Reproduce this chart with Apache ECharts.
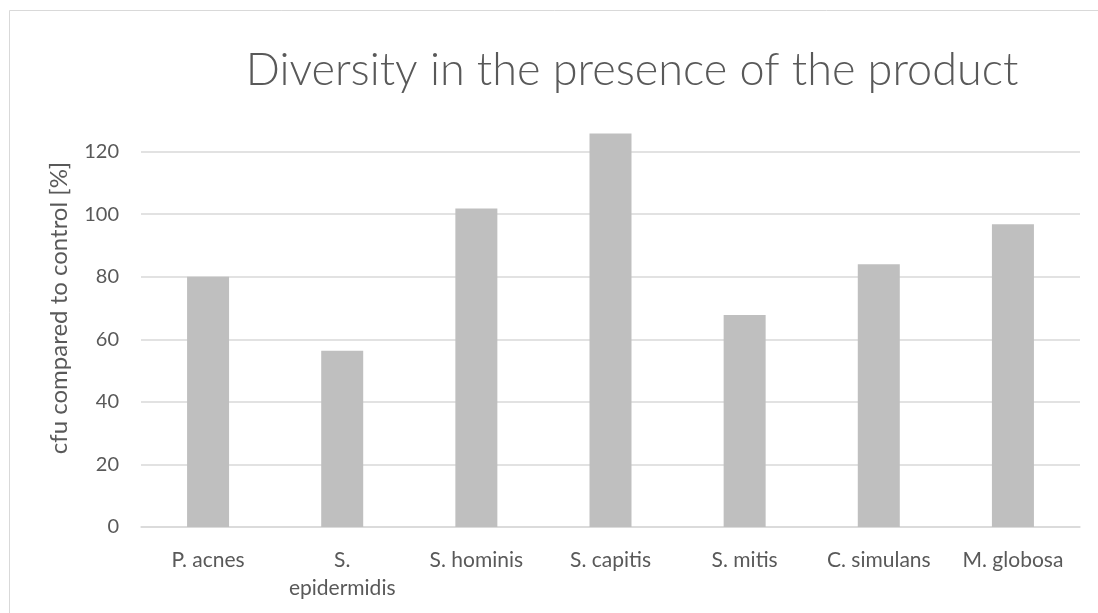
<!DOCTYPE html>
<html>
<head>
<meta charset="utf-8">
<script src="https://cdn.jsdelivr.net/npm/echarts@6/dist/echarts.min.js"></script>
<style>
html,body{margin:0;padding:0;background:#fff;}
#chart{width:1098px;height:613px;}
</style>
</head>
<body>
<div id="chart"></div>
<script>
const categories = ['P. acnes','S. epidermidis','S. hominis','S. capitis','S. mitis','C. simulans','M. globosa'];
const values = [80.0, 56.3, 101.8, 125.8, 67.8, 84.0, 96.8];
const titleText = 'Diversity in the presence of the product';
const yAxisName = 'cfu compared to control [%]';

const chart = echarts.init(document.getElementById('chart'));
const font = 'Lato';
chart.setOption({
  backgroundColor: '#ffffff',
  animation: false,
  graphic: [{
    type: 'rect', left: 7, top: 8, shape: {width: 1200, height: 700},
    style: {fill: 'none', stroke: '#d9d9d9', lineWidth: 1}, silent: true
  }],
  title: {
    text: titleText, left: 627, top: 43, textAlign: 'center',
    textStyle: {fontFamily: font, fontWeight: 300, fontSize: 45, color: '#595959'}
  },
  grid: {left: 141, right: 18, top: 89, bottom: 86, containLabel: false},
  xAxis: {
    type: 'category', data: categories,
    axisLine: {show: true, lineStyle: {color: '#d9d9d9', width: 1.5}},
    axisTick: {show: false},
    axisLabel: {
      fontFamily: font, fontSize: 21, color: '#595959', margin: 19, lineHeight: 28,
      interval: 0,
      formatter: v => v.length > 12 ? v.replace(' ', '\n') : v
    }
  },
  yAxis: {
    type: 'value', min: 0, max: 140, interval: 20,
    name: yAxisName, nameLocation: 'middle', nameGap: 70, nameRotate: 90,
    nameTextStyle: {fontFamily: font, fontSize: 24, color: '#595959'},
    axisLine: {show: false}, axisTick: {show: false},
    axisLabel: {fontFamily: font, fontSize: 20, color: '#595959', margin: 22, showMaxLabel: false},
    splitLine: {show: true, showMaxLine: false, lineStyle: {color: '#d9d9d9', width: 1.5}}
  },
  series: [{
    type: 'bar', data: values, barWidth: 42,
    itemStyle: {color: '#bfbfbf'}
  }]
});
</script>
</body>
</html>
